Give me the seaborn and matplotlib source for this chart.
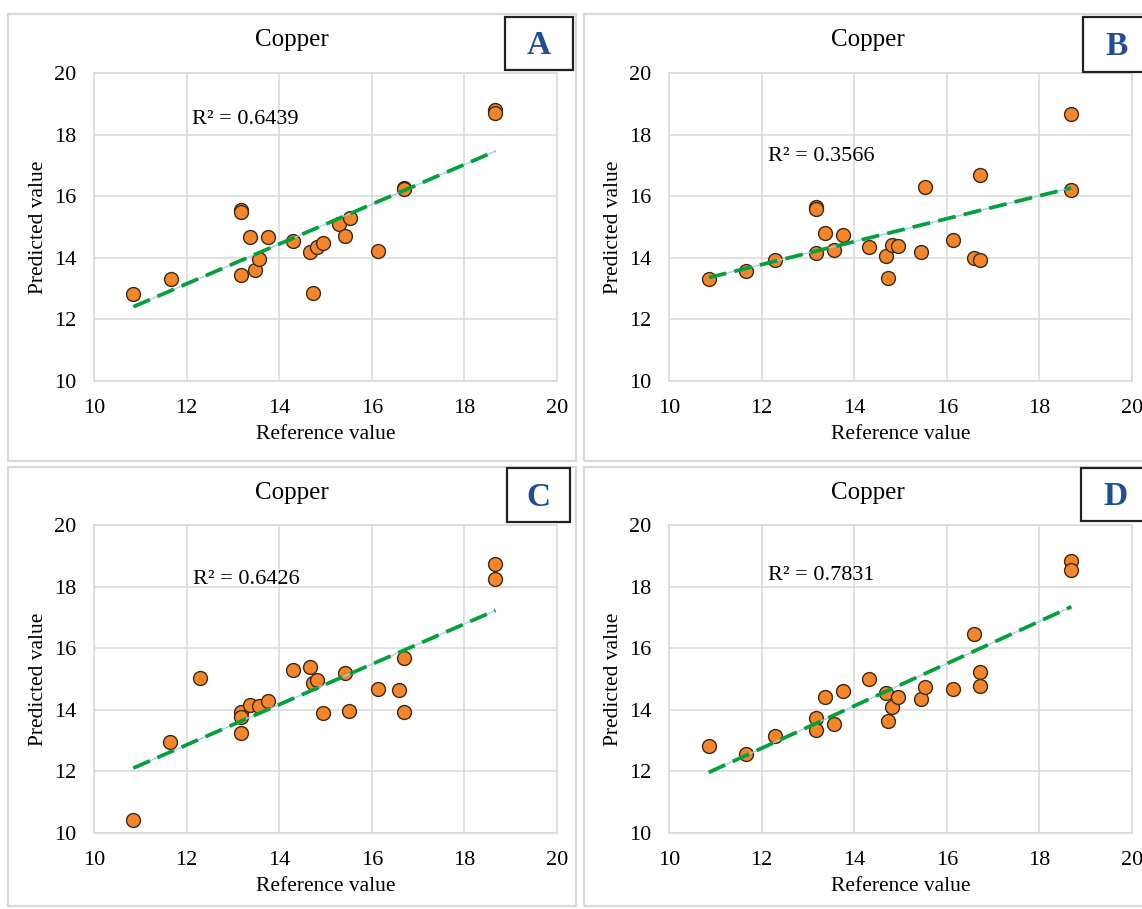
import numpy as np
import pandas as pd
import matplotlib
matplotlib.use("Agg")
import matplotlib.pyplot as plt
from matplotlib.patches import Rectangle
import seaborn as sns

# Copper calibration: reference value vs predicted value for four models
ref_a = [10.85, 11.66, 13.17, 13.17, 13.17, 13.37, 13.48, 13.57, 13.75, 14.30, 14.66,
         14.73, 14.81, 14.95, 15.29, 15.43, 15.53, 16.14, 16.69, 16.69, 18.67, 18.67]
pred_a = [12.81, 13.30, 15.55, 15.50, 13.45, 14.69, 13.60, 13.95, 14.69, 14.56, 14.19,
          12.87, 14.34, 14.49, 15.10, 14.72, 15.30, 14.21, 16.28, 16.24, 18.79, 18.70]

ref_b = [10.86, 11.66, 12.28, 13.17, 13.17, 13.17, 13.36, 13.57, 13.75, 14.31, 14.68,
         14.73, 14.81, 14.94, 15.45, 15.52, 16.14, 16.58, 16.71, 16.71, 18.69, 18.69]
pred_b = [13.30, 13.57, 13.92, 15.66, 15.60, 14.16, 14.82, 14.26, 14.74, 14.35, 14.06,
          13.35, 14.41, 14.37, 14.20, 16.30, 14.57, 14.00, 13.94, 16.68, 16.20, 18.66]

ref_c = [10.85, 11.65, 12.29, 13.17, 13.17, 13.17, 13.37, 13.57, 13.75, 14.30, 14.66,
         14.72, 14.81, 14.94, 15.43, 15.51, 16.14, 16.59, 16.69, 16.69, 18.67, 18.67]
pred_c = [10.43, 12.96, 15.04, 13.93, 13.77, 13.25, 14.16, 14.12, 14.29, 15.28, 15.40,
          14.86, 14.96, 13.90, 15.21, 13.95, 14.69, 14.63, 15.68, 13.93, 18.75, 18.24]

ref_d = [10.86, 11.66, 12.28, 13.17, 13.17, 13.36, 13.57, 13.75, 14.31, 14.68, 14.73,
         14.81, 14.94, 15.45, 15.52, 16.14, 16.58, 16.71, 16.71, 18.69, 18.69]
pred_d = [12.82, 12.58, 13.14, 13.72, 13.34, 14.41, 13.54, 14.60, 15.01, 14.54, 13.65,
          14.10, 14.41, 14.34, 14.75, 14.68, 16.46, 15.23, 14.76, 18.84, 18.54]

panel_letters = ["A", "B", "C", "D"]
r2_labels = ["R² = 0.6439", "R² = 0.3566", "R² = 0.6426", "R² = 0.7831"]
r2_pos = [(12.11, 18.48), (12.14, 17.28), (12.14, 18.24), (12.14, 18.37)]
chart_title = "Copper"
x_label = "Reference value"
y_label = "Predicted value"
ticks = [10, 12, 14, 16, 18, 20]

sns.set_theme(style="white")
plt.rcParams["font.family"] = ["Liberation Serif", "DejaVu Serif"]

W, H = 1142, 909
fig = plt.figure(figsize=(W / 100, H / 100), dpi=100)
fig.patch.set_facecolor("white")

GRID = "#D9D9D9"
ORANGE = "#F5852A"
EDGE = "#3B2A1A"
GREEN = "#04A03C"
BLUE_TXT = "#1F4E96"


def fx(px):
    return px / W


def fy(py):
    return 1 - py / H


# chart frames: (left, top, right, bottom) in pixels
frames = [(8, 14, 576, 461), (584, 14, 1160, 461),
          (8, 467, 576, 906), (584, 467, 1160, 906)]
# plot areas: (left, top, right, bottom) in pixels
areas = [(94, 73, 557, 381), (669, 73, 1132, 381),
         (94, 525, 557, 833), (669, 525, 1132, 833)]
# letter boxes: (left, top, right, bottom)
boxes = [(505, 17, 573, 70), (1083, 17, 1151, 72),
         (507, 468, 570, 522), (1081, 468, 1149, 521)]

datasets = [(ref_a, pred_a), (ref_b, pred_b), (ref_c, pred_c), (ref_d, pred_d)]

for i, ((x, y), fr, ar, bx) in enumerate(zip(datasets, frames, areas, boxes)):
    # frame of the chart
    fig.patches.append(Rectangle((fx(fr[0]), fy(fr[3])), fx(fr[2] - fr[0]), (fr[3] - fr[1]) / H,
                                 transform=fig.transFigure, fill=False,
                                 edgecolor=GRID, linewidth=1.6, zorder=0))
    ax = fig.add_axes([fx(ar[0]), fy(ar[3]), fx(ar[2] - ar[0]), (ar[3] - ar[1]) / H])
    df = pd.DataFrame({"ref": x, "pred": y})

    # thin underlay of the linear trendline
    sns.regplot(data=df, x="ref", y="pred", ax=ax, ci=None, scatter=False,
                line_kws=dict(color="#A9C8EA", lw=0.9, zorder=3))
    sns.regplot(data=df, x="ref", y="pred", ax=ax, ci=None,
                scatter_kws=dict(s=100, color=ORANGE, edgecolors=EDGE,
                                 linewidths=1.0, alpha=1, zorder=2),
                line_kws=dict(color=GREEN, lw=2.7, ls=(0, (4.8, 2.2)), zorder=4))

    ax.set_xlim(10, 20)
    ax.set_ylim(10, 20)
    ax.set_xticks(ticks)
    ax.set_yticks(ticks)
    ax.grid(True, color=GRID, linewidth=1.1)
    ax.set_axisbelow(True)
    for sp in ax.spines.values():
        sp.set_visible(True)
        sp.set_color(GRID)
        sp.set_linewidth(1.1)
    ax.tick_params(axis="both", length=0, labelsize=16, colors="black")
    ax.tick_params(axis="y", pad=13)
    ax.tick_params(axis="x", pad=13)
    ax.set_xlabel(x_label, fontsize=15.5, color="black", labelpad=5)
    ax.set_ylabel(y_label, fontsize=15.5, color="black", labelpad=4)
    ax.text(r2_pos[i][0], r2_pos[i][1], r2_labels[i], fontsize=16,
            ha="left", va="center", color="black")

    # chart title centered over the frame
    fig.text(fx((fr[0] + min(fr[2], 1152)) / 2), fy(fr[1] + 26), chart_title,
             ha="center", va="center", fontsize=18, color="black")

    # boxed panel letter
    fig.patches.append(Rectangle((fx(bx[0]), fy(bx[3])), fx(bx[2] - bx[0]), (bx[3] - bx[1]) / H,
                                 transform=fig.transFigure, fill=True, facecolor="white",
                                 edgecolor="#222222", linewidth=1.6, zorder=5))
    fig.text(fx((bx[0] + bx[2]) / 2), fy((bx[1] + bx[3]) / 2 + 2), panel_letters[i],
             ha="center", va="center", fontsize=24, fontweight="bold",
             color=BLUE_TXT, zorder=6)

fig.savefig("out.png", dpi=100, facecolor="white")
